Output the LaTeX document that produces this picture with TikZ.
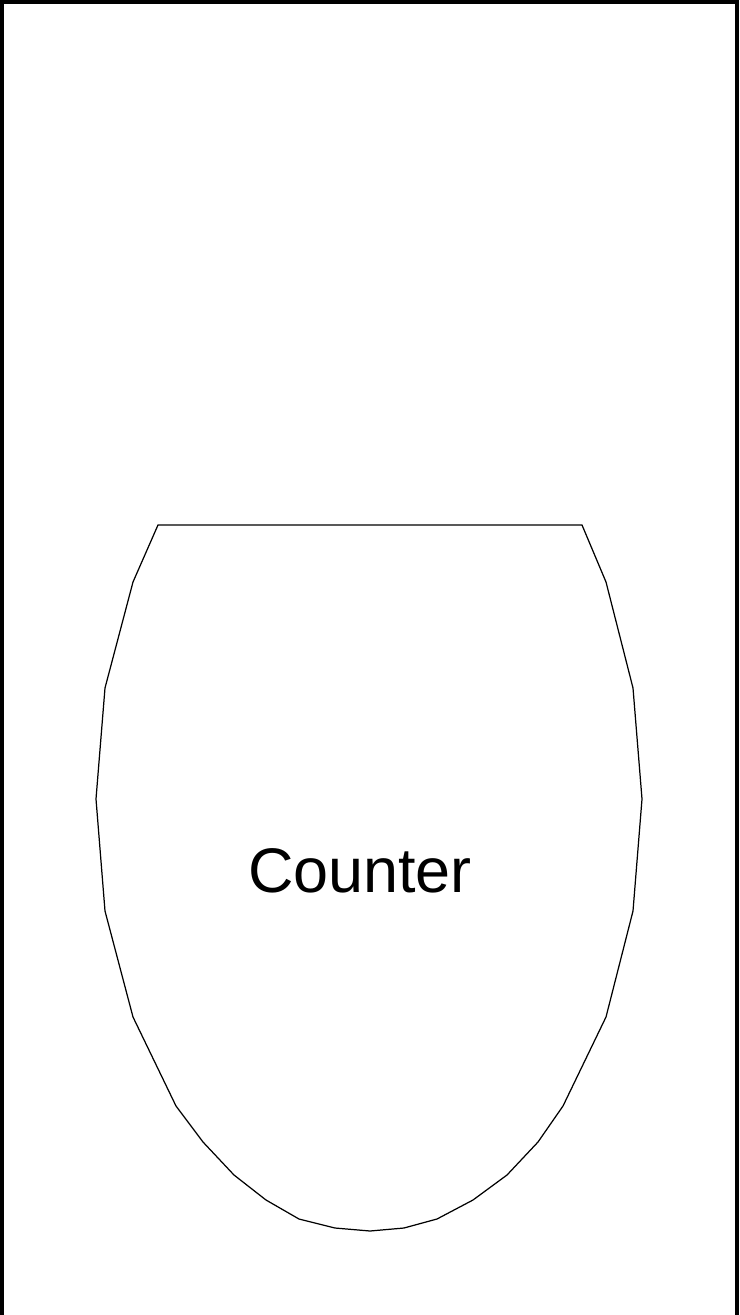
\documentclass[tikz,border=0pt]{standalone}
\usepackage{fontspec}
\setmainfont{Liberation Sans}
\usetikzlibrary{positioning}

\begin{document}
\begin{tikzpicture}[
    x=0.01cm, y=-0.01cm,
    frame/.style={line width=1.15pt, line cap=butt},
    outline/.style={draw, line width=0.35pt, line join=miter},
    lbl/.style={font=\fontsize{17.9}{21}\selectfont, inner sep=0pt},
]
% === Page size ===
\useasboundingbox (0,0) rectangle (739,1315);
% === Frame (open at the bottom) ===
\draw[frame] (2,1315) -- (2,2) -- (737,2) -- (737,1315);
% === Counter outline ===
\draw[outline] (158,525) -- (582,525) -- (606,582) -- (633,688) -- (642,799)
    -- (633,911) -- (606,1017) -- (563,1106) -- (538,1142) -- (507,1175)
    -- (473,1200) -- (437,1219) -- (404,1228) -- (370,1231) -- (335,1228)
    -- (299,1219) -- (266,1200) -- (234,1175) -- (203,1142) -- (176,1106)
    -- (133,1017) -- (105,911) -- (96,799) -- (105,688) -- (133,582) -- cycle;
% === Label ===
\node[lbl] (counter) at (360,871) {Counter};
\end{tikzpicture}
\end{document}
